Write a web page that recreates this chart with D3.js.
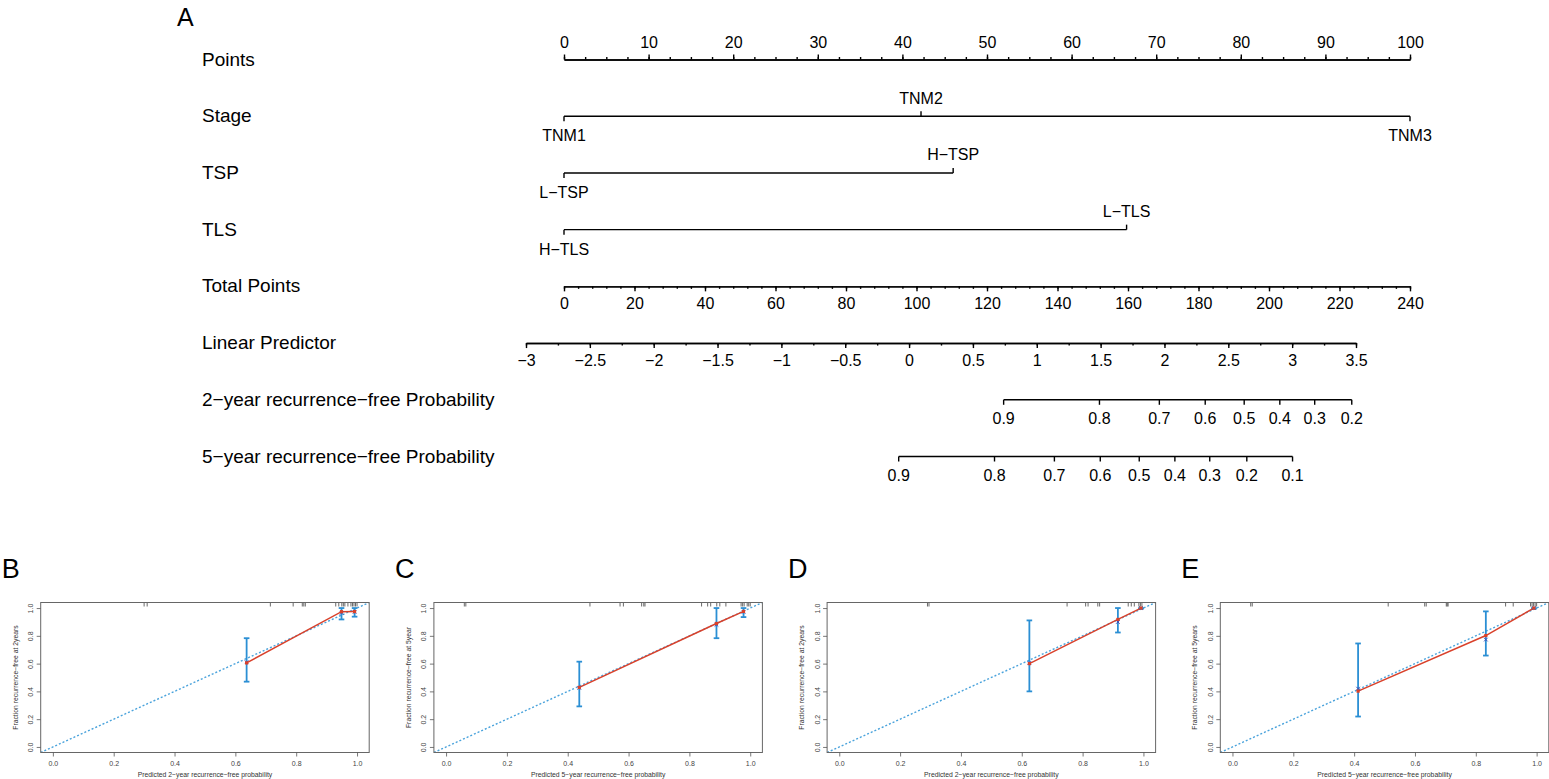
<!DOCTYPE html>
<html>
<head>
<meta charset="utf-8">
<script src="https://cdn.jsdelivr.net/npm/d3@7"></script>
<style>
body { margin: 0; background: #fff; }
svg { display: block; }
text { font-family: "Liberation Sans", Arial, sans-serif; }
</style>
</head>
<body>
<div id="chart"></div>
<script>
'use strict'

var W = 1549, H = 779;
var MINUS = "\u2212";

// ---- nomogram data (panel A) ----
var rowTitles = ["Points", "Stage", "TSP", "TLS", "Total Points", "Linear Predictor",
    "2" + MINUS + "year recurrence" + MINUS + "free Probability",
    "5" + MINUS + "year recurrence" + MINUS + "free Probability"];

var pointsMajor = [0, 10, 20, 30, 40, 50, 60, 70, 80, 90, 100];
var totalMajor = [0, 20, 40, 60, 80, 100, 120, 140, 160, 180, 200, 220, 240];
var lpMajor = [-3, -2.5, -2, -1.5, -1, -0.5, 0, 0.5, 1, 1.5, 2, 2.5, 3, 3.5];

var stageLevels = ["TNM1", "TNM2", "TNM3"];
var stagePoints = [0, 42.2, 100];
var tspLevels = ["L" + MINUS + "TSP", "H" + MINUS + "TSP"];
var tspPoints = [0, 46];
var tlsLevels = ["H" + MINUS + "TLS", "L" + MINUS + "TLS"];
var tlsPoints = [0, 66.5];

// survival probability ticks, and baseline survival
var prob2y = [0.9, 0.8, 0.7, 0.6, 0.5, 0.4, 0.3, 0.2];
var prob5y = [0.9, 0.8, 0.7, 0.6, 0.5, 0.4, 0.3, 0.2, 0.1];
var s0_2y = 0.951;
var s0_5y = 0.892;

// ---- calibration data (panels B-E) ----
var calLetters = ["B", "C", "D", "E"];
var calYears = ["2", "5", "2", "5"];
var calYTitles = ["Fraction recurrence" + MINUS + "free at 2years", "Fraction recurrence" + MINUS + "free at 5year",
    "Fraction recurrence" + MINUS + "free at 2years", "Fraction recurrence" + MINUS + "free at 5years"];
var calPred = [[0.637, 0.949, 0.992], [0.438, 0.889, 0.978], [0.625, 0.916, 0.992], [0.413, 0.833, 0.991]];
var calObs = [[0.605, 0.974, 0.975], [0.429, 0.889, 0.976], [0.600, 0.918, 1.0], [0.402, 0.802, 1.0]];
var calCorr = [[0.610, 0.965, 0.972], [0.425, 0.880, 0.972], [0.605, 0.900, 1.0], [0.420, 0.773, 1.0]];
var calLo = [[0.470, 0.918, 0.938], [0.292, 0.783, 0.935], [0.400, 0.824, 0.995], [0.219, 0.658, 0.995]];
var calHi = [[0.783, 1.0, 1.0], [0.614, 1.0, 1.0], [0.911, 1.0, 1.0], [0.745, 0.976, 1.0]];
var calRug = [
    [0.30, 0.31, 0.715, 0.79, 0.82, 0.825, 0.83, 0.93, 0.94, 0.95, 0.955, 0.96, 0.97, 0.98, 0.985, 0.99, 0.995, 1.0],
    [0.06, 0.065, 0.473, 0.572, 0.583, 0.643, 0.65, 0.654, 0.84, 0.86, 0.87, 0.89, 0.9, 0.92, 0.97, 0.975, 0.98, 0.99, 0.995, 1.0],
    [0.29, 0.295, 0.749, 0.81, 0.818, 0.85, 0.856, 0.95, 0.96, 0.97, 0.985, 0.99, 0.995],
    [0.06, 0.065, 0.512, 0.632, 0.637, 0.703, 0.706, 0.709, 0.898, 0.923, 0.98, 0.985, 0.99, 0.995, 1.0]
];
var calTicks = [0, 0.2, 0.4, 0.6, 0.8, 1.0];

var svg = d3.select("#chart").append("svg").attr("width", W).attr("height", H);
svg.append("rect").attr("width", W).attr("height", H).attr("fill", "#fff");

var fmtMinus = function(d) {
    return String(d).replace("-", MINUS);
};

// ---------- panel A ----------
var xPts = d3.scaleLinear().domain([0, 100]).range([564, 1410]);
var xTot = d3.scaleLinear().domain([0, 240]).range([564, 1410]);
var xLP = d3.scaleLinear().domain([-3, 3.5]).range([526, 1356]);

var rowY = d3.scaleLinear().domain([0, 7]).range([59.5, 456.5]);

svg.append("text").attr("x", 177).attr("y", 26).attr("font-size", 25).text("A");

rowTitles.forEach(function(t, i) {
    svg.append("text").attr("x", 202).attr("y", rowY(i) + 6).attr("font-size", 19).text(t);
});

var lineStyle = function(sel) {
    sel.attr("stroke", "#000").attr("stroke-width", 1.4).attr("fill", "none");
};

// numeric axis with major and minor ticks
function numAxis(row, scale, major, minorStep, above) {
    var y = rowY(row);
    var g = svg.append("g").attr("transform", "translate(0," + y + ")");
    var mk = above ? d3.axisTop : d3.axisBottom;
    var d = scale.domain();
    var minor = d3.range(d[0], d[1] + minorStep / 2, minorStep);
    g.append("g").call(mk(scale).tickValues(minor).tickSize(2.5).tickSizeOuter(0).tickFormat(""));
    var gm = g.append("g").call(mk(scale).tickValues(major).tickSize(5).tickSizeOuter(0).tickFormat(fmtMinus));
    g.selectAll("path, line").call(lineStyle);
    gm.selectAll("text")
        .attr("font-size", 16)
        .attr("font-family", "Liberation Sans, Arial, sans-serif")
        .attr("fill", "#000")
        .attr("dy", null)
        .attr("y", above ? -11.5 : 23);
}

numAxis(0, xPts, pointsMajor, 2.5, true);
numAxis(4, xTot, totalMajor, 4, false);
numAxis(5, xLP, lpMajor, 0.25, false);

// factor rows: labels alternate below / above
function factorRow(row, levels, pts) {
    var y = rowY(row);
    var g = svg.append("g").attr("transform", "translate(0," + y + ")");
    g.append("line").attr("x1", xPts(d3.min(pts))).attr("x2", xPts(d3.max(pts))).attr("y1", 0).attr("y2", 0).call(lineStyle);
    levels.forEach(function(lv, i) {
        var up = i % 2 === 1;
        var x = xPts(pts[i]);
        g.append("line").attr("x1", x).attr("x2", x).attr("y1", 0).attr("y2", up ? -5 : 5).call(lineStyle);
        g.append("text").attr("x", x).attr("y", up ? -12.5 : 25).attr("text-anchor", "middle")
            .attr("font-size", 16).text(lv);
    });
}

factorRow(1, stageLevels, stagePoints);
factorRow(2, tspLevels, tspPoints);
factorRow(3, tlsLevels, tlsPoints);

// probability rows placed on the linear predictor scale
function probRow(row, probs, s0) {
    var y = rowY(row);
    var lpOf = function(p) {
        return Math.log(Math.log(p) / Math.log(s0));
    };
    var g = svg.append("g").attr("transform", "translate(0," + y + ")");
    var xs = probs.map(function(p) { return xLP(lpOf(p)); });
    g.append("line").attr("x1", d3.min(xs)).attr("x2", d3.max(xs)).attr("y1", 0).attr("y2", 0).call(lineStyle);
    probs.forEach(function(p, i) {
        g.append("line").attr("x1", xs[i]).attr("x2", xs[i]).attr("y1", 0).attr("y2", 5).call(lineStyle);
        g.append("text").attr("x", xs[i]).attr("y", 24).attr("text-anchor", "middle")
            .attr("font-size", 16).text(String(p));
    });
}

probRow(6, prob2y, s0_2y);
probRow(7, prob5y, s0_5y);

// ---------- panels B-E ----------
var boxW = 328.5, boxTop = 602.5, boxBot = 752.5;
var axisCol = "#555", blue = "#2b8fd4", red = "#d9412b";

calLetters.forEach(function(letter, k) {
    var left = 40.7 + k * 393.2;
    var x = d3.scaleLinear().domain([-0.04, 1.04]).range([left, left + boxW]);
    var y = d3.scaleLinear().domain([-0.04, 1.04]).range([boxBot, boxTop]);
    var g = svg.append("g");

    g.append("text").attr("x", left - 39).attr("y", 578).attr("font-size", 27).text(letter);

    var clipId = "clip" + k;
    g.append("clipPath").attr("id", clipId).append("rect")
        .attr("x", left).attr("y", boxTop).attr("width", boxW).attr("height", boxBot - boxTop);

    // ideal line
    g.append("line").attr("clip-path", "url(#" + clipId + ")")
        .attr("x1", x(-0.04)).attr("y1", y(-0.04)).attr("x2", x(1.04)).attr("y2", y(1.04))
        .attr("stroke", "#4aa3dc").attr("stroke-width", 1.4).attr("stroke-dasharray", "2,2");

    // rug of predicted values along the top
    g.selectAll(".rug").data(calRug[k]).enter().append("line")
        .attr("x1", function(d) { return x(d); }).attr("x2", function(d) { return x(d); })
        .attr("y1", boxTop).attr("y2", boxTop + 4)
        .attr("stroke", "#444").attr("stroke-width", 0.8);

    var pts = calPred[k].map(function(p, i) {
        return { p: p, o: calObs[k][i], c: calCorr[k][i], lo: calLo[k][i], hi: calHi[k][i] };
    });

    // error bars
    pts.forEach(function(d) {
        var cx = x(d.p);
        g.append("line").attr("x1", cx).attr("x2", cx).attr("y1", y(d.lo)).attr("y2", y(d.hi))
            .attr("stroke", blue).attr("stroke-width", 1.8);
        [d.lo, d.hi].forEach(function(v) {
            g.append("line").attr("x1", cx - 2.8).attr("x2", cx + 2.8).attr("y1", y(v)).attr("y2", y(v))
                .attr("stroke", blue).attr("stroke-width", 1.8);
        });
    });

    // observed line
    g.append("path").datum(pts)
        .attr("d", d3.line().x(function(d) { return x(d.p); }).y(function(d) { return y(d.o); }))
        .attr("fill", "none").attr("stroke", red).attr("stroke-width", 1.5);

    // bias corrected (blue x) and observed (red square)
    pts.forEach(function(d) {
        var cx = x(d.p), cy = y(d.c);
        g.append("path").attr("d", "M" + (cx - 1.8) + "," + (cy - 1.8) + "l3.6,3.6M" + (cx - 1.8) + "," + (cy + 1.8) + "l3.6,-3.6")
            .attr("stroke", "#3a4fb8").attr("stroke-width", 1);
        g.append("rect").attr("x", cx - 1.6).attr("y", y(d.o) - 1.6).attr("width", 3.2).attr("height", 3.2)
            .attr("fill", red);
    });

    // frame
    g.append("rect").attr("x", left).attr("y", boxTop).attr("width", boxW).attr("height", boxBot - boxTop)
        .attr("fill", "none").attr("stroke", "#666").attr("stroke-width", 1);

    // axes
    var gx = g.append("g").attr("transform", "translate(0," + boxBot + ")")
        .call(d3.axisBottom(x).tickValues(calTicks).tickSize(4).tickSizeOuter(0).tickFormat(d3.format(".1f")));
    var gy = g.append("g").attr("transform", "translate(" + left + ",0)")
        .call(d3.axisLeft(y).tickValues(calTicks).tickSize(4).tickSizeOuter(0).tickFormat(d3.format(".1f")));
    [gx, gy].forEach(function(a) {
        a.select(".domain").remove();
        a.selectAll("line").attr("stroke", axisCol).attr("stroke-width", 0.8);
        a.selectAll("text").attr("font-size", 7).attr("fill", "#444")
            .attr("font-family", "Liberation Sans, Arial, sans-serif");
    });
    gx.selectAll("text").attr("dy", null).attr("y", 13);
    gy.selectAll("text").attr("dy", null).attr("x", null)
        .attr("text-anchor", "middle")
        .attr("transform", "translate(-10,0) rotate(-90)")
        .attr("y", 0).attr("dy", "0.35em");

    g.append("text").attr("x", left + boxW / 2).attr("y", 777).attr("text-anchor", "middle")
        .attr("font-size", 6.8).attr("fill", "#333")
        .text("Predicted " + calYears[k] + MINUS + "year recurrence" + MINUS + "free probability");
    g.append("text").attr("transform", "translate(" + (left - 23) + "," + ((boxTop + boxBot) / 2) + ") rotate(-90)")
        .attr("text-anchor", "middle").attr("font-size", 6.8).attr("fill", "#333")
        .text(calYTitles[k]);
});
</script>
</body>
</html>
